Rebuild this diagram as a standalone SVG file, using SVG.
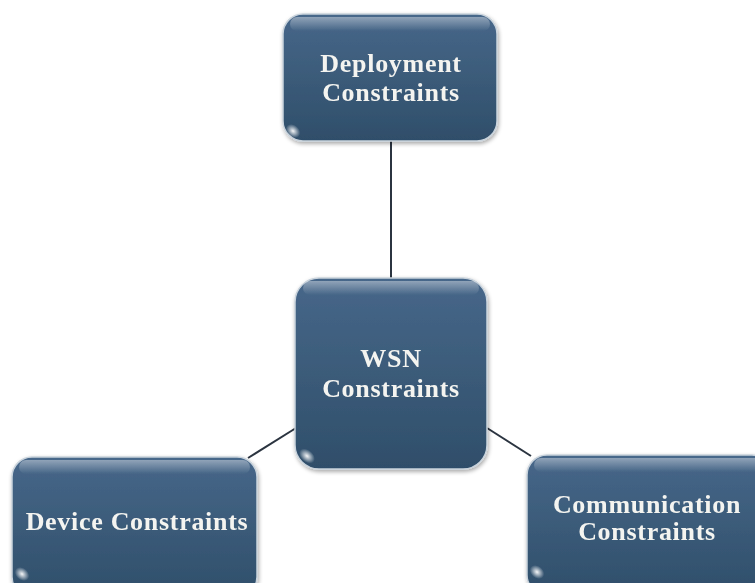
<svg xmlns="http://www.w3.org/2000/svg" width="755" height="583" viewBox="0 0 755 583">
<defs>
<linearGradient id="fill" x1="0" y1="0" x2="0" y2="1">
<stop offset="0" stop-color="#47678a"/>
<stop offset="0.5" stop-color="#3b5b79"/>
<stop offset="1" stop-color="#2f4e6a"/>
</linearGradient>
<linearGradient id="gloss" x1="0" y1="0" x2="0" y2="1">
<stop offset="0" stop-color="#ffffff" stop-opacity="0.4"/>
<stop offset="1" stop-color="#ffffff" stop-opacity="0"/>
</linearGradient>
<radialGradient id="spot" cx="0.5" cy="0.5" r="0.5">
<stop offset="0" stop-color="#ffffff" stop-opacity="0.95"/>
<stop offset="1" stop-color="#ffffff" stop-opacity="0"/>
</radialGradient>
<filter id="sh" x="-10%" y="-10%" width="120%" height="125%">
<feGaussianBlur in="SourceAlpha" stdDeviation="2"/>
<feOffset dx="1" dy="2"/>
<feComponentTransfer><feFuncA type="linear" slope="0.35"/></feComponentTransfer>
<feMerge><feMergeNode/><feMergeNode in="SourceGraphic"/></feMerge>
</filter>
</defs>
<style>
.box{fill:url(#fill);stroke:#c9d3dc;stroke-width:1.5}
.gl{fill:url(#gloss)}
.sp{fill:url(#spot)}
.t{font-family:"Liberation Serif","DejaVu Serif",serif;font-weight:bold;font-size:26px;letter-spacing:0.7px;fill:#f4f4f0;text-anchor:middle}
.c{stroke:#2b3440;stroke-width:2;fill:none}
</style>
<g id="connectors">
<line class="c" x1="391" y1="141" x2="391" y2="279"/>
<line class="c" x1="296" y1="428" x2="248" y2="458"/>
<line class="c" x1="487" y1="428" x2="531" y2="456"/>
</g>
<g id="deployment" filter="url(#sh)">
<rect class="box" x="283" y="14" width="214" height="127" rx="20"/>
<rect class="gl" x="290" y="17" width="200" height="14" rx="7"/>
<ellipse class="sp" cx="293" cy="131" rx="8" ry="6" transform="rotate(40 293 131)"/>
<text class="t" x="391" y="72">Deployment</text>
<text class="t" x="391" y="101">Constraints</text>
</g>
<g id="wsn" filter="url(#sh)">
<rect class="box" x="295" y="278" width="192" height="191" rx="24"/>
<rect class="gl" x="303" y="281" width="176" height="14" rx="7"/>
<ellipse class="sp" cx="307" cy="456" rx="9" ry="6" transform="rotate(40 307 456)"/>
<text class="t" x="391" y="367">WSN</text>
<text class="t" x="391" y="397">Constraints</text>
</g>
<g id="device" filter="url(#sh)">
<rect class="box" x="12" y="457" width="245" height="140" rx="20"/>
<rect class="gl" x="19" y="460" width="231" height="14" rx="7"/>
<ellipse class="sp" cx="22" cy="574" rx="8" ry="6" transform="rotate(40 22 574)"/>
<text class="t" x="137" y="530">Device Constraints</text>
</g>
<g id="communication" filter="url(#sh)">
<rect class="box" x="527" y="455" width="245" height="140" rx="20"/>
<rect class="gl" x="534" y="458" width="231" height="14" rx="7"/>
<ellipse class="sp" cx="537" cy="572" rx="8" ry="6" transform="rotate(40 537 572)"/>
<text class="t" x="647" y="513">Communication</text>
<text class="t" x="647" y="540">Constraints</text>
</g>
</svg>
